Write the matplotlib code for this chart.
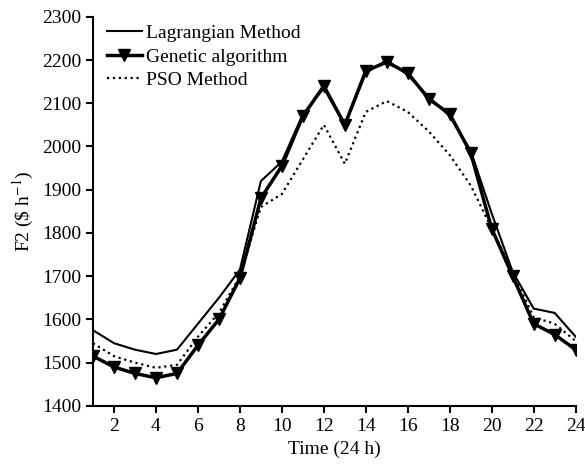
import matplotlib.pyplot as plt
import numpy as np

plt.rcParams['font.family'] = ['Liberation Serif', 'DejaVu Serif']
plt.rcParams['mathtext.fontset'] = 'stix'

hours = np.arange(1, 25)

lagrangian = [1575, 1545, 1530, 1520, 1530, 1590, 1650, 1715, 1920, 1965, 2075, 2135,
              2050, 2170, 2200, 2165, 2115, 2070, 1990, 1845, 1710, 1625, 1615, 1560]
genetic = [1515, 1490, 1475, 1465, 1475, 1540, 1600, 1695, 1880, 1955, 2070, 2140,
           2050, 2175, 2195, 2170, 2110, 2075, 1985, 1810, 1700, 1590, 1565, 1530]
pso = [1545, 1515, 1500, 1488, 1495, 1560, 1615, 1700, 1860, 1890, 1970, 2050,
       1960, 2080, 2105, 2080, 2035, 1980, 1910, 1810, 1710, 1605, 1590, 1550]

fig = plt.figure(figsize=(5.85, 4.66), dpi=100)
ax = fig.add_axes([0.159, 0.129, 0.825, 0.835])

ax.plot(hours, lagrangian, color='black', linewidth=1.5, label='Lagrangian Method')
ax.plot(hours, genetic, color='black', linewidth=2.5, marker='v', markersize=9,
        label='Genetic algorithm')
ax.plot(hours, pso, color='black', linewidth=1.6, linestyle=':', label='PSO Method')

ax.set_xlim(1, 24)
ax.set_ylim(1400, 2300)
ax.set_xticks(np.arange(2, 25, 2))
ax.set_yticks(np.arange(1400, 2301, 100))

for side in ['top', 'right']:
    ax.spines[side].set_visible(False)
for side in ['left', 'bottom']:
    ax.spines[side].set_linewidth(1.5)
ax.tick_params(direction='out', length=5, width=1.5, labelsize=14)

ax.set_xlabel('Time (24 h)', fontsize=14)
ax.set_ylabel('F2 (\\$ h$^{-1}$)', fontsize=14)

ax.legend(loc='upper left', frameon=False, fontsize=14, handlelength=1.8,
          labelspacing=0.3, handletextpad=0.25, borderaxespad=0.0,
          bbox_to_anchor=(0.012, 1.0))

fig.savefig('out.png', dpi=100)
